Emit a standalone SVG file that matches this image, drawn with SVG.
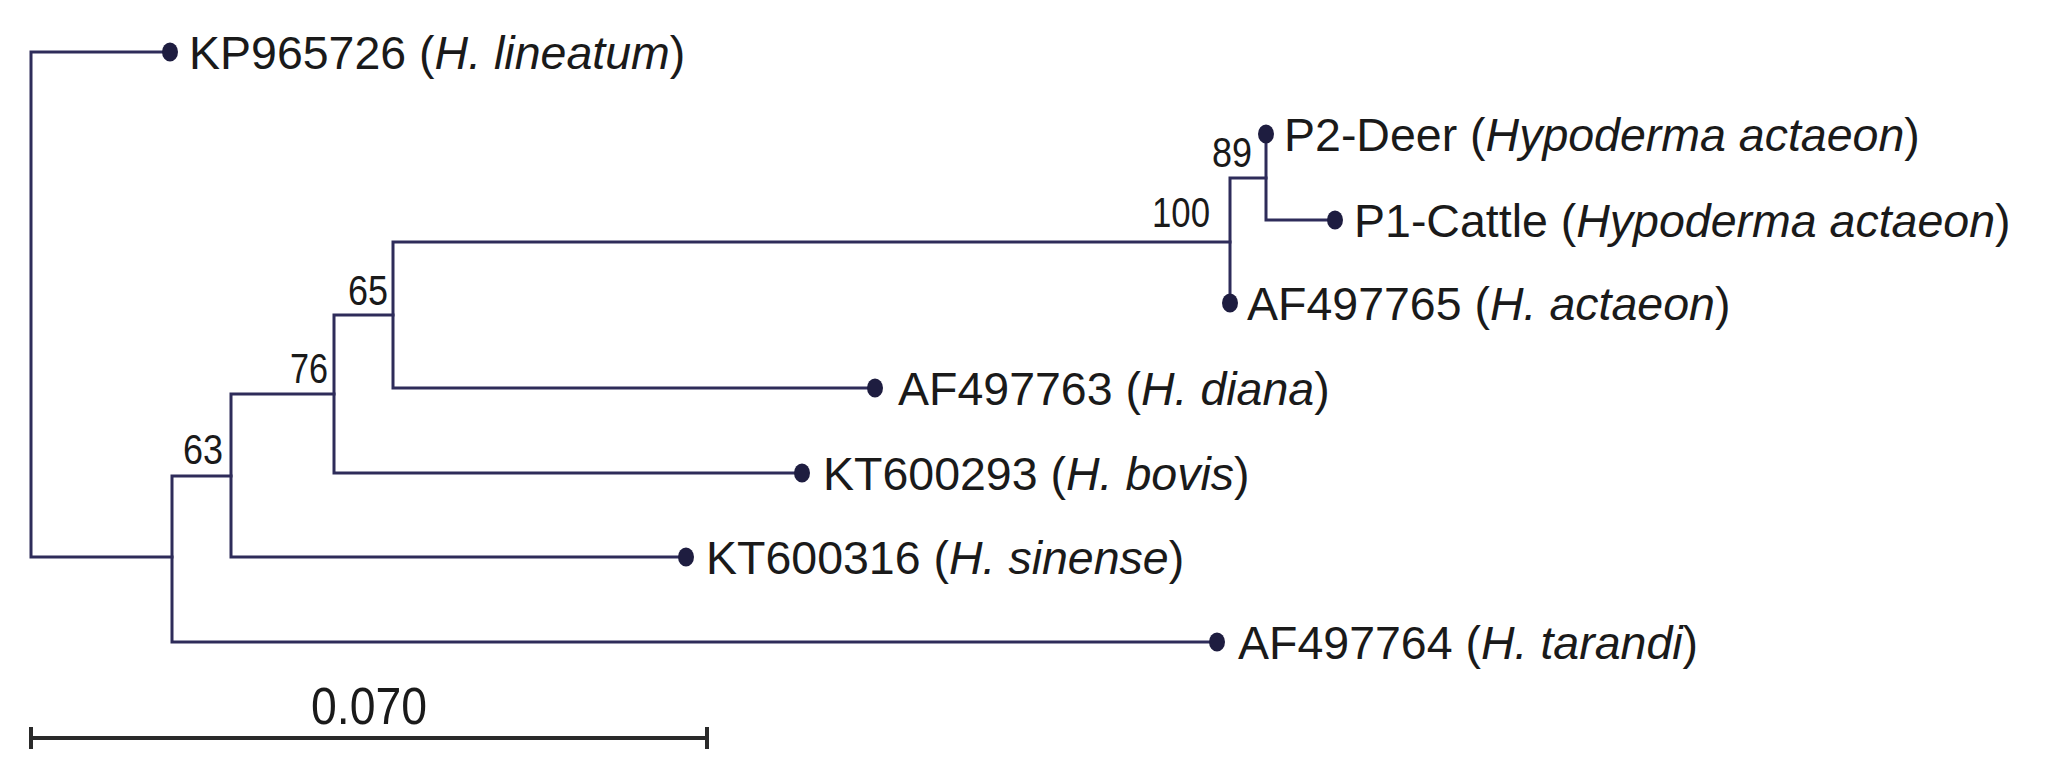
<svg xmlns="http://www.w3.org/2000/svg" width="2054" height="780" viewBox="0 0 2054 780">
<style>
.br{fill:none;stroke:#2e2c5a;stroke-width:3;stroke-linecap:square}
.dot{fill:#1e1d40}
.lab{font-family:"Liberation Sans",Arial,sans-serif;font-size:46.5px;fill:#1a1a1a}
.it{font-style:italic}
.bs{font-family:"Liberation Sans",Arial,sans-serif;font-size:42px;fill:#1a1a1a;text-anchor:end}
.sc{font-family:"Liberation Sans",Arial,sans-serif;font-size:52px;fill:#1a1a1a}
.sb{fill:none;stroke:#2a2a2a;stroke-width:4}
</style>
<rect width="2054" height="780" fill="#ffffff"/>
<g id="connectors">
<path class="br" d="M170,52 H31 V557 H172"/>
<path class="br" d="M1217,642 H172 V476 H231"/>
<path class="br" d="M686,557 H231 V394 H334"/>
<path class="br" d="M802,473 H334 V315 H393"/>
<path class="br" d="M875,388 H393 V242 H1230"/>
<path class="br" d="M1230,303 V178 H1266"/>
<path class="br" d="M1266,134 V220 H1335"/>
</g>
<g id="KP965726"><ellipse class="dot" cx="170" cy="52" rx="8" ry="9.5"/><text class="lab" x="189" y="69">KP965726 (<tspan class="it">H. lineatum</tspan>)</text></g>
<g id="P2-Deer"><ellipse class="dot" cx="1266" cy="134" rx="8" ry="9.5"/><text class="lab" x="1284" y="151">P2-Deer (<tspan class="it">Hypoderma actaeon</tspan>)</text></g>
<g id="P1-Cattle"><ellipse class="dot" cx="1335" cy="220" rx="8" ry="9.5"/><text class="lab" x="1354" y="237">P1-Cattle (<tspan class="it">Hypoderma actaeon</tspan>)</text></g>
<g id="AF497765"><ellipse class="dot" cx="1230" cy="303" rx="8" ry="9.5"/><text class="lab" x="1247" y="320">AF497765 (<tspan class="it">H. actaeon</tspan>)</text></g>
<g id="AF497763"><ellipse class="dot" cx="875" cy="388" rx="8" ry="9.5"/><text class="lab" x="898" y="405">AF497763 (<tspan class="it">H. diana</tspan>)</text></g>
<g id="KT600293"><ellipse class="dot" cx="802" cy="473" rx="8" ry="9.5"/><text class="lab" x="823" y="490">KT600293 (<tspan class="it">H. bovis</tspan>)</text></g>
<g id="KT600316"><ellipse class="dot" cx="686" cy="557" rx="8" ry="9.5"/><text class="lab" x="706" y="574">KT600316 (<tspan class="it">H. sinense</tspan>)</text></g>
<g id="AF497764"><ellipse class="dot" cx="1217" cy="642" rx="8" ry="9.5"/><text class="lab" x="1238" y="659">AF497764 (<tspan class="it">H. tarandi</tspan>)</text></g>
<g id="bootstrap">
<text class="bs" x="223" y="464" textLength="40" lengthAdjust="spacingAndGlyphs">63</text>
<text class="bs" x="328" y="383" textLength="38" lengthAdjust="spacingAndGlyphs">76</text>
<text class="bs" x="388" y="305" textLength="40" lengthAdjust="spacingAndGlyphs">65</text>
<text class="bs" x="1210" y="227" textLength="58" lengthAdjust="spacingAndGlyphs">100</text>
<text class="bs" x="1252" y="167" textLength="40" lengthAdjust="spacingAndGlyphs">89</text>
</g>
<g id="scalebar">
<path class="sb" d="M31,738 H707 M31,727 V749 M707,727 V749"/>
<text class="sc" x="369" y="724" text-anchor="middle" textLength="116" lengthAdjust="spacingAndGlyphs">0.070</text>
</g>
</svg>
